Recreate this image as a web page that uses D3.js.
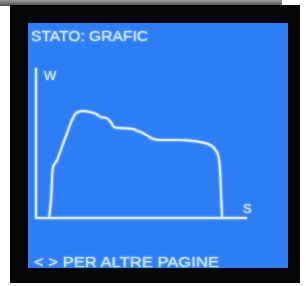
<!DOCTYPE html>
<html>
<head>
<meta charset="utf-8">
<script src="https://cdn.jsdelivr.net/npm/d3@7"></script>
<style>
  body { margin: 0; background: #fff; }
  svg { display: block; }
</style>
</head>
<body>
<svg></svg>
<script>
// curve: S (x) and W (y), 0..100 scale
const sValues = [6.2, 7.1, 7.6, 8.1, 10.0, 12.3, 14.7, 17.1, 19.0, 21.8, 25.6, 28.4, 30.8, 33.2, 35.1, 37.0, 39.8, 46.0, 48.3, 50.7, 53.1, 55.5, 58.8, 68.2, 77.7, 81.5, 84.4, 86.3, 87.2, 87.7, 88.2]
const wValues = [0, 12.2, 25.7, 34.5, 39.2, 48.0, 57.4, 66.2, 70.9, 72.3, 71.6, 70.3, 68.2, 67.6, 65.5, 61.5, 60.8, 60.1, 58.8, 57.4, 55.4, 53.4, 52.7, 52.7, 51.4, 50.0, 47.3, 42.6, 32.4, 15.5, 0]
const titleText = "STATO: GRAFIC"
const footerText = "< > PER ALTRE PAGINE"
const xLabel = "S"
const yLabel = "W"

const width = 306
const height = 286
const blue = "#2e7df5"
const ink = "#d4eaff"
const textInk = "#c4e2ff"

const svg = d3.select('svg')
  .attr('width', width)
  .attr('height', height)

setupFrame()
drawChart()

function setupFrame() {
  const defs = svg.append('defs')
  const glow = defs.append('filter').attr('id', 'glow')
    .attr('x', '-20%').attr('y', '-20%').attr('width', '140%').attr('height', '140%')
  glow.append('feGaussianBlur').attr('stdDeviation', 1.1).attr('result', 'b')
  const merge = glow.append('feMerge')
  merge.append('feMergeNode').attr('in', 'b')
  merge.append('feMergeNode').attr('in', 'SourceGraphic')

  const topShade = defs.append('linearGradient').attr('id', 'topShade')
    .attr('x1', 0).attr('y1', 0).attr('x2', 0).attr('y2', 1)
  topShade.append('stop').attr('offset', 0).attr('stop-color', '#9a9a9a')
  topShade.append('stop').attr('offset', 1).attr('stop-color', '#4a4a4a')

  svg.append('rect').attr('x', 0).attr('y', 0).attr('width', 282).attr('height', 6)
    .attr('fill', 'url(#topShade)')
  svg.append('rect').attr('x', 10).attr('y', 5).attr('width', 290).attr('height', 278)
    .attr('fill', '#050508')
  svg.append('rect').attr('x', 28).attr('y', 23).attr('width', 260).attr('height', 245)
    .attr('fill', blue)
}

function drawChart() {
  const x = d3.scaleLinear().domain([0, 100]).range([36, 247])
  const y = d3.scaleLinear().domain([0, 100]).range([218, 70])

  const g = svg.append('g').attr('filter', 'url(#glow)')

  // axes as plain lines, no ticks on the display
  g.append('line')
    .attr('x1', x(0)).attr('x2', x(0))
    .attr('y1', y(0) + 1).attr('y2', y(101.5))
    .attr('stroke', ink).attr('stroke-width', 2)
  g.append('line')
    .attr('x1', x(0)).attr('x2', x(100))
    .attr('y1', y(0)).attr('y2', y(0))
    .attr('stroke', ink).attr('stroke-width', 2)

  const points = sValues.map((s, i) => [s, wValues[i]])
  const line = d3.line()
    .x(d => x(d[0]))
    .y(d => y(d[1]))
    .curve(d3.curveCatmullRom.alpha(0.5))

  g.append('path')
    .datum(points)
    .attr('d', line)
    .attr('fill', 'none')
    .attr('stroke', ink)
    .attr('stroke-width', 2)
    .attr('stroke-linejoin', 'round')

  const font = 'Liberation Sans, Arial, sans-serif'
  g.append('text').text(titleText)
    .attr('x', 31).attr('y', 41)
    .attr('font-family', font).attr('font-size', 15)
    .attr('textLength', 117).attr('lengthAdjust', 'spacingAndGlyphs')
    .attr('fill', textInk)
  g.append('text').text(yLabel)
    .attr('x', 44).attr('y', 80)
    .attr('font-family', font).attr('font-size', 13)
    .attr('fill', textInk)
  g.append('text').text(xLabel)
    .attr('x', 243).attr('y', 213)
    .attr('font-family', font).attr('font-size', 13)
    .attr('fill', textInk)
  g.append('text').text(footerText)
    .attr('x', 34).attr('y', 267)
    .attr('font-family', font).attr('font-size', 15)
    .attr('textLength', 185).attr('lengthAdjust', 'spacingAndGlyphs')
    .attr('fill', textInk)
}
</script>
</body>
</html>
